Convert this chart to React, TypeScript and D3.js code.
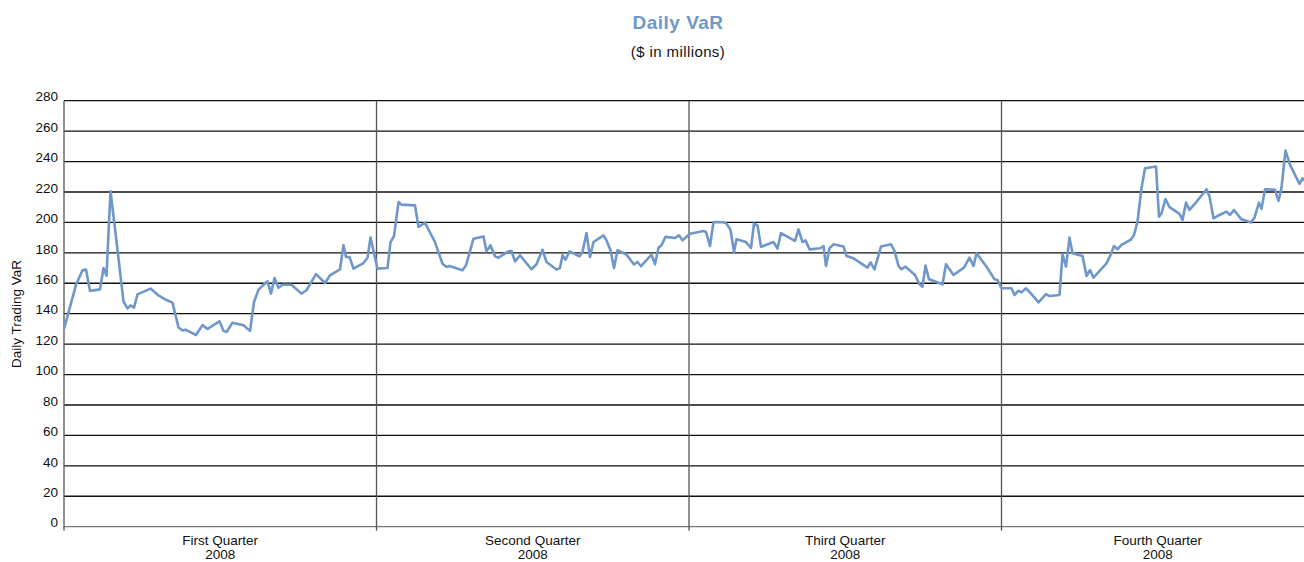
import {useRef, useEffect} from 'react'
import * as d3 from 'd3'

// trading day index (0..250, ~62.5 per quarter) and daily VaR ($M)
const days = [
    0, 2.4, 3.7, 4.4, 5.2, 7.2, 7.9, 8.5, 9.3, 10.7, 11.9, 12.7, 13.3, 14, 14.7, 17.3, 18.9, 20.5, 21.7, 22.9,
    23.7, 24.3, 26.4, 27.7, 28.7, 31.1, 31.9, 32.5, 33.7, 35.9, 37.2, 38, 38.9, 40.7, 41.4, 42.1, 42.9, 43.7, 45.5, 47.5,
    48.5, 50.4, 52.2, 53.2, 55.2, 55.9, 56.4, 57.1, 57.9, 59.9, 60.7, 61.3, 62.7, 64.7, 65.3, 66, 66.9, 67.5, 70.2, 70.9,
    72.2, 74.2, 75.7, 76.5, 77.1, 79.7, 80.4, 81.9, 83.9, 84.5, 85.3, 86.2, 86.9, 88.9, 89.5, 90.2, 91.2, 93.5, 94.5, 95.7,
    96.5, 98.5, 99.2, 99.7, 100.3, 101.1, 103.1, 103.7, 104.5, 105.2, 105.9, 107.9, 108.5, 109.3, 110, 110.7, 112.5, 114, 114.7, 115.4,
    117.5, 118.2, 118.9, 119.5, 120.3, 122.2, 123, 123.7, 125.2, 127.9, 128.4, 129.2, 129.9, 131.9, 132.5, 133.3, 134, 134.5, 136.4, 137.4,
    138, 138.7, 139.4, 141.9, 142.7, 143.4, 146.2, 146.9, 147.7, 148.3, 149.1, 151.2, 151.9, 152.4, 153.1, 153.9, 155.9, 156.5, 157.9, 159.2,
    160.7, 161.3, 162.1, 163.4, 165.4, 166.1, 166.9, 167.5, 168.3, 170.2, 171.1, 171.7, 172.3, 173, 175.7, 176.4, 177.9, 180, 181.1, 181.9,
    182.5, 184.4, 186.1, 186.7, 187.5, 189.5, 190.1, 190.9, 191.5, 192.4, 193.5, 194.9, 196.4, 197.1, 199.1, 199.7, 200.4, 201.1, 201.7, 203.7,
    204.5, 205.2, 205.9, 208.5, 209.3, 210, 210.7, 211.5, 213.3, 214, 214.7, 215.5, 216.2, 218.4, 219, 219.5, 220.3, 221.1, 223.1, 223.7,
    224.4, 225.1, 226.4, 228.5, 229.1, 229.9, 231.1, 232.5, 233.2, 234, 235.4, 237.4, 238.1, 239, 239.5, 240.2, 242.2, 242.9, 243.5, 244.3,
    245.2, 247.1, 247.7, 248.2
]
const varValues = [
    130, 159, 168.5, 169, 155, 156, 170, 165, 220.5, 182, 148, 143.5, 145.5, 144, 152.7, 156.5, 152, 149, 147.3, 131,
    129, 129.5, 126, 132.5, 130, 135, 128.7, 128, 134, 132.4, 128.7, 147.7, 155.8, 161.3, 153.2, 163.5, 157, 159, 159, 153.2,
    155.4, 166, 160.2, 165.2, 169.2, 185, 177.3, 177.3, 169.6, 173.3, 176.8, 190, 169.6, 170, 187, 191, 213.4, 211.7, 211.2, 197,
    199.8, 187, 172.8, 170.7, 171.3, 168.5, 171.8, 189.3, 190.8, 181, 185, 177.7, 176.8, 181, 181.2, 174.4, 178.3, 169.2, 172.5, 182,
    174, 169, 170, 178.5, 175.5, 181, 177.7, 180.6, 193, 177.3, 187.1, 191.5, 188.2, 181.7, 170, 181.7, 178.8, 172.3, 174, 171.2,
    178.8, 172.5, 183.3, 185, 190.5, 189.8, 191.5, 188.2, 192.6, 194.3, 193.7, 184.5, 200.3, 200.1, 199.2, 195.2, 180.6, 188.9, 187.1, 183.2,
    199.2, 198.1, 183.9, 187.1, 182.8, 193, 187.8, 195.4, 187.1, 188.2, 182.3, 183, 184.5, 171.4, 183, 185.6, 184.1, 177.9, 176.4, 173.6,
    170.3, 173.8, 169.2, 184.1, 185.6, 181.2, 171.4, 169.2, 170.9, 165.4, 159.3, 157.8, 171.6, 162.6, 159.3, 172.5, 165.4, 170.3, 176.8, 171.4,
    179.7, 171.4, 162.6, 162.1, 156.7, 156.7, 152.3, 155.1, 154, 156.7, 152.9, 147.5, 152.9, 151.6, 152.3, 179, 171, 190, 179.7, 177.9,
    164.8, 168.7, 163.7, 173.1, 178.6, 184.5, 182.3, 185.2, 188.5, 191.8, 200.5, 222.5, 235.6, 236.7, 203.8, 206, 215.4, 210, 205.6, 201.6,
    213, 208.2, 213.2, 221.8, 217, 202.7, 204.9, 207.1, 204.9, 208.2, 202.3, 199.9, 203.2, 213, 208.9, 221.8, 221.4, 214.1, 222.9, 247.2,
    237.8, 225.3, 229, 227.5
]
const quarters = ["First Quarter", "Second Quarter", "Third Quarter", "Fourth Quarter"]
const quarterYear = "2008"
const yTicks = [0, 20, 40, 60, 80, 100, 120, 140, 160, 180, 200, 220, 240, 260, 280]

export default function App() {
    const ref = useRef<HTMLDivElement>(null)

    useEffect(() => {
        const width = 1304
        const height = 562
        const font = "'Liberation Sans', Arial, Helvetica, sans-serif"
        const daysPerQuarter = 62.5

        const x = d3.scaleLinear().domain([0, 4 * daysPerQuarter]).range([64, 1314])
        const y = d3.scaleLinear().domain([0, 280]).range([526.7, 100.7])

        const svg = d3.create("svg")
            .attr("width", width)
            .attr("height", height)
            .style("position", "absolute")
            .style("left", "0px")
            .style("top", "0px")
            .style("background", "white")
            .style("font-family", font)

        // title
        svg.append("text")
            .attr("x", 678).attr("y", 29)
            .attr("text-anchor", "middle")
            .style("font-size", "19px").style("font-weight", "bold")
            .style("letter-spacing", "0.5px")
            .style("fill", "#6f97c9")
            .text("Daily VaR")
        svg.append("text")
            .attr("x", 678).attr("y", 57)
            .attr("text-anchor", "middle")
            .style("font-size", "15px")
            .style("letter-spacing", "0.4px")
            .style("fill", "#111")
            .text("($ in millions)")

        // horizontal gridlines
        svg.append("g").selectAll("line")
            .data(yTicks)
            .join("line")
            .attr("x1", x(0)).attr("x2", x(4 * daysPerQuarter))
            .attr("y1", d => y(d)).attr("y2", d => y(d))
            .style("stroke", d => d === 0 ? "#777" : "#111")
            .style("stroke-width", 1.3)

        // y tick labels
        svg.append("g").selectAll("text")
            .data(yTicks)
            .join("text")
            .attr("x", 58)
            .attr("y", d => y(d) - 4)
            .attr("dy", "0.35em")
            .attr("text-anchor", "end")
            .style("font-size", "13.5px")
            .style("fill", "#111")
            .text(d => d)

        // quarter dividers + left axis
        svg.append("g").selectAll("line")
            .data(d3.range(0, 5))
            .join("line")
            .attr("x1", d => x(d * daysPerQuarter)).attr("x2", d => x(d * daysPerQuarter))
            .attr("y1", y(280)).attr("y2", y(0) + 4)
            .style("stroke", "#555")
            .style("stroke-width", 1.3)

        // quarter labels
        const ql = svg.append("g").selectAll("text")
            .data(quarters)
            .join("text")
            .attr("text-anchor", "middle")
            .style("font-size", "13.5px")
            .style("fill", "#111")
        ql.append("tspan")
            .attr("x", (d, i) => x((i + 0.5) * daysPerQuarter))
            .attr("y", 544.5)
            .text(d => d)
        ql.append("tspan")
            .attr("x", (d, i) => x((i + 0.5) * daysPerQuarter))
            .attr("y", 559)
            .text(quarterYear)

        // y axis title
        svg.append("text")
            .attr("transform", "translate(21, 314) rotate(-90)")
            .attr("text-anchor", "middle")
            .style("font-size", "13.5px")
            .style("fill", "#111")
            .text("Daily Trading VaR")

        // VaR line
        const line = d3.line<number>()
            .x((d, i) => x(days[i]))
            .y(d => y(d))
        svg.append("path")
            .datum(varValues)
            .attr("d", line)
            .style("fill", "none")
            .style("stroke", "#6f97c9")
            .style("stroke-width", 2.6)
            .style("stroke-linejoin", "round")

        ref.current?.append(svg.node() as SVGSVGElement)
        return () => { svg.node()?.remove() }
    }, [])

    return <div ref={ref}></div>
}
